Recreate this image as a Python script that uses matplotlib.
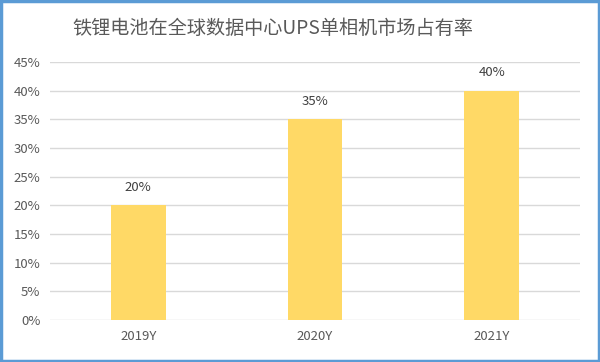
import matplotlib.pyplot as plt
from matplotlib.patches import Rectangle

plt.rcParams['font.family'] = ['Noto Sans CJK SC', 'DejaVu Sans']

years = ['2019Y', '2020Y', '2021Y']
share = [20, 35, 40]
yticks = [0, 5, 10, 15, 20, 25, 30, 35, 40, 45]

fig = plt.figure(figsize=(6, 3.62), dpi=100)
ax = fig.add_axes([50 / 600, 1 - 320 / 362, 530 / 600, 258 / 362])

bars = ax.bar(range(len(years)), share, width=0.31, color='#FFD966', zorder=3)
for b, v in zip(bars, share):
    ax.text(b.get_x() + b.get_width() / 2, v + 2, f'{v}%',
            ha='center', va='bottom', fontsize=9.5, color='#404040')

ax.set_xlim(-0.5, 2.5)
ax.set_ylim(0, 45)
ax.set_yticks(yticks)
ax.set_yticklabels([f'{t}%' for t in yticks])
ax.set_xticks(range(len(years)))
ax.set_xticklabels(years)
ax.tick_params(length=0, labelsize=9.5, colors='#595959', pad=7)
ax.grid(axis='y', color='#D9D9D9', linewidth=1, zorder=0)
for s in ax.spines.values():
    s.set_visible(False)

fig.text(72 / 600, 1 - 28 / 362, '铁锂电池在全球数据中心UPS单相机市场占有率',
         fontsize=13.8, color='#595959', va='center', ha='left')

fig.patches.append(Rectangle((0.002, 0.003), 0.996, 0.994, transform=fig.transFigure,
                             fill=False, edgecolor='#5B9BD5', linewidth=2.5))

fig.savefig('out.png', dpi=100)
